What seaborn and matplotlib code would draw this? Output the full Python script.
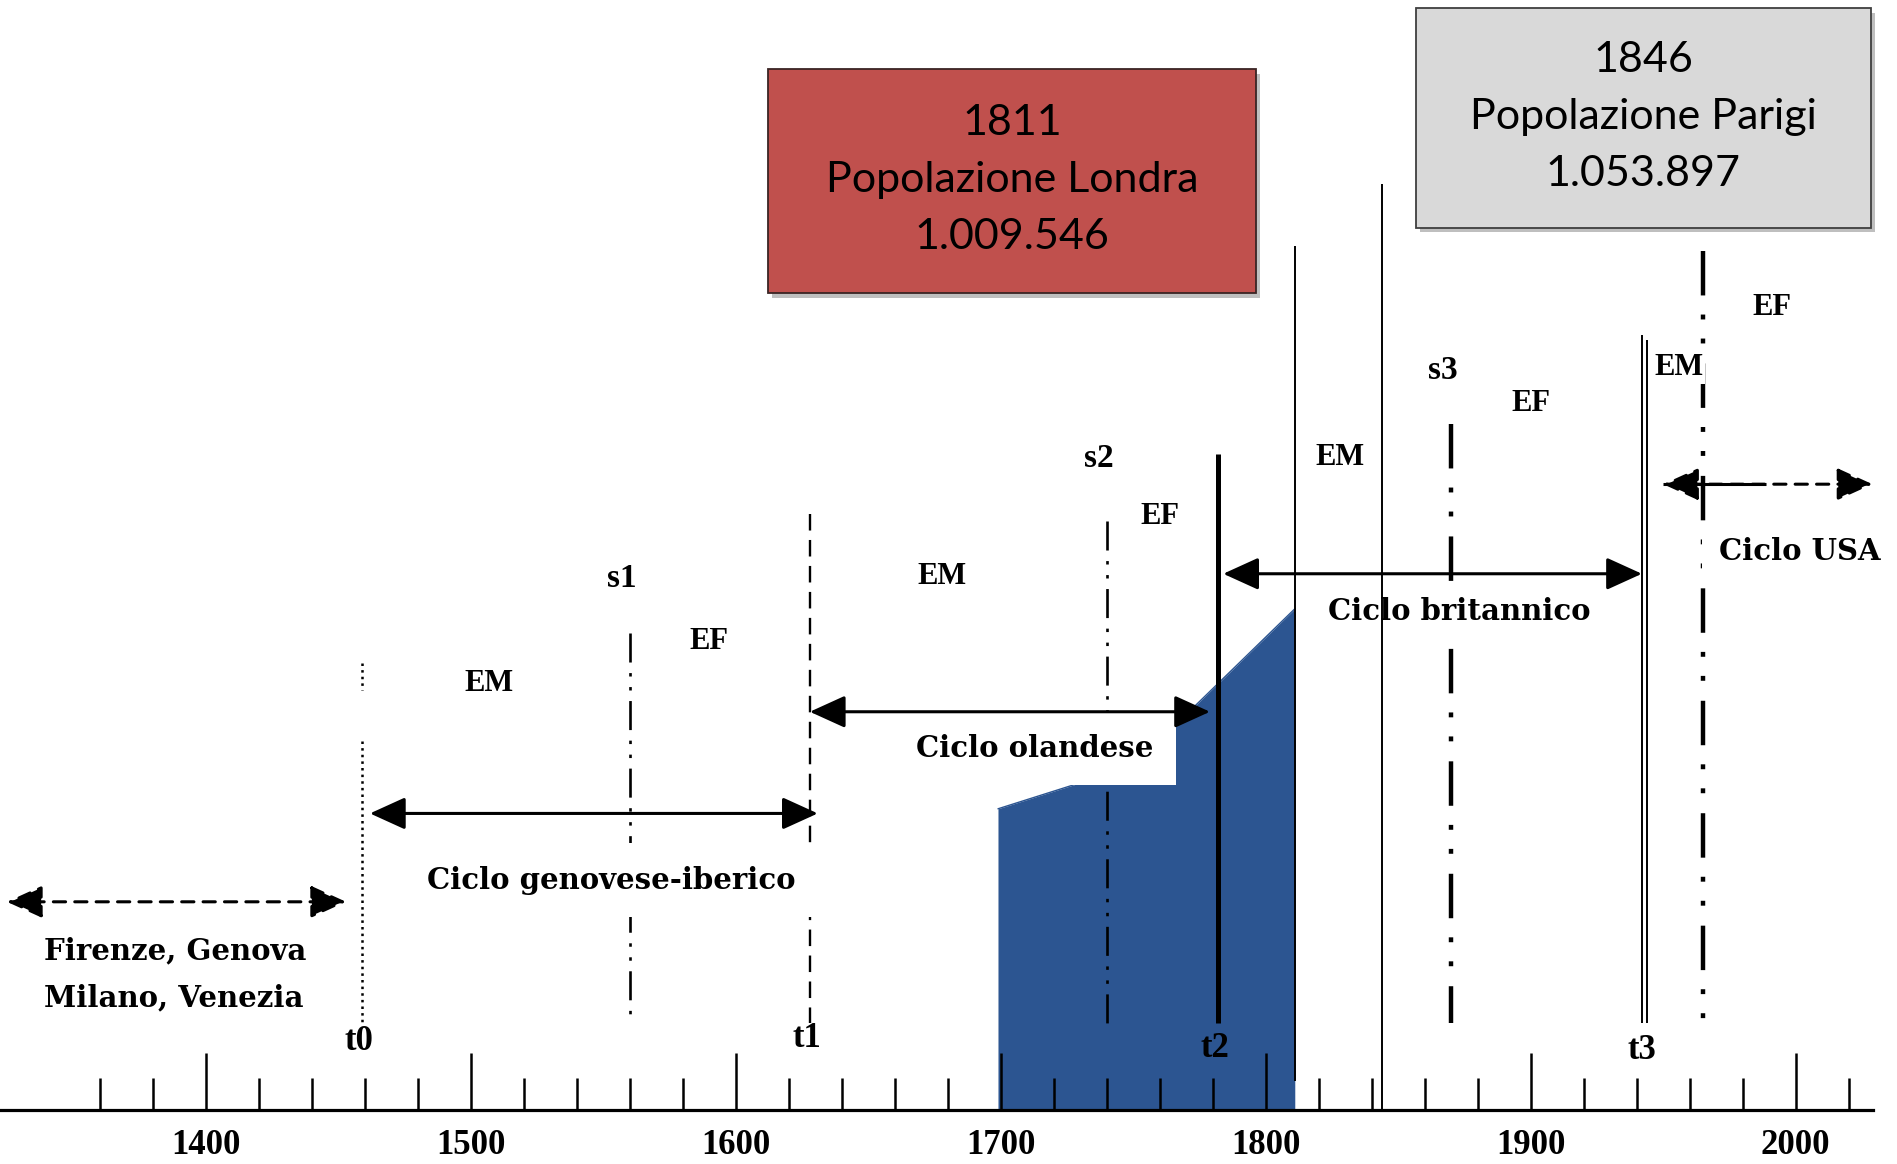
import matplotlib
matplotlib.use('Agg')
import matplotlib.pyplot as plt
from matplotlib.patches import Rectangle
from matplotlib.ticker import FixedLocator
import numpy as np
import pandas as pd
import seaborn as sns

# ── Data ──────────────────────────────────────────────────────────────────────
tick_years   = [1400, 1500, 1600, 1700, 1800, 1900, 2000]
minor_years  = [y for y in range(1360, 2021, 20) if y % 100]

turn_names   = ['t0', 't1', 't2', 't3']
turn_years   = [1459, 1628, 1782, 1943]

signal_names = ['s1', 's2', 's3', '']
signal_years = [1560, 1740, 1870, 1965]

cycle_names  = ['Firenze, Genova\nMilano, Venezia', 'Ciclo genovese-iberico',
                'Ciclo olandese', 'Ciclo britannico', 'Ciclo USA']
cycle_start  = [1325, 1462, 1628, 1784, 1950]
cycle_end    = [1453, 1631, 1779, 1942, 2029]

phase_names  = ['EM', 'EF', 'EM', 'EF', 'EM', 'EF', 'EM', 'EF']

london_years = [1699, 1728, 1770, 1811]
london_pop   = [607, 656, 797, 1010]          # migliaia di abitanti

census_years  = [1811, 1846]
census_cities = ['Londra', 'Parigi']
census_pop    = ['1.009.546', '1.053.897']
census_lines  = [1811, 1844]

# ── Style ─────────────────────────────────────────────────────────────────────
sns.set_theme(style='white')
SERIF = ['Liberation Serif', 'DejaVu Serif']
WIDE  = ['DejaVu Serif']
plt.rcParams['font.family'] = SERIF
plt.rcParams['text.color'] = 'black'
BLUE = '#2C5591'

fig = plt.figure(figsize=(18.97, 11.64), dpi=100)
ax = fig.add_axes([0, 54 / 1164, 1873 / 1897, 1 - 54 / 1164])
ax2 = ax.twinx()
ax.set_zorder(ax2.get_zorder() + 1)
ax.patch.set_visible(False)

ax.set_xlim(1322.4, 2029.2)
ax.set_ylim(917, 0)          # layout units: 0 = top, 917 = time axis

# ── London population (blue area) ─────────────────────────────────────────────
pop_df = pd.DataFrame({'anno': london_years, 'pop': london_pop})
ax2.fill_between(pop_df['anno'], 0, pop_df['pop'], color=BLUE, lw=0)
sns.lineplot(data=pop_df, x='anno', y='pop', ax=ax2, color=BLUE, lw=1)
ax2.set_ylim(0, 2237)
ax2.axis('off')

# ── Time axis ─────────────────────────────────────────────────────────────────
for s in ['top', 'left', 'right']:
    ax.spines[s].set_visible(False)
ax.spines['bottom'].set_color('black')
ax.spines['bottom'].set_linewidth(2.3)
ax.set_yticks([])
ax.set_xticks(tick_years)
ax.set_xticklabels([str(y) for y in tick_years], fontweight='bold', fontsize=25,
                   color='black')
ax.xaxis.set_minor_locator(FixedLocator(minor_years))
ax.tick_params(axis='x', which='both', bottom=True, top=False, colors='black')
ax.tick_params(axis='x', which='major', direction='in', length=41, width=1.8,
               pad=14)
ax.tick_params(axis='x', which='minor', direction='in', length=23, width=1.8)

# ── Vertical lines ────────────────────────────────────────────────────────────
thin_dd  = (0, (11, 4, 1.3, 4, 1.3, 4))
thick_dd = (0, (10, 4.3, 1.1, 4.3, 1.1, 4.5))

# t0 dotted (two pieces), t1 dashed, t2 solid, t3 double
ax.vlines([turn_years[0]] * 2, [548, 612], [570, 845], colors='black', lw=1.8,
          linestyles=':', zorder=2)
ax.vlines(turn_years[1], 425, 845, colors='black', lw=1.7,
          linestyles=(0, (7, 4)), zorder=2)
ax.vlines(turn_years[2], 375, 845, colors='black', lw=3.6, zorder=4)
ax.vlines([turn_years[3] - 1.1, turn_years[3] + 1.1], [277, 281], [845, 845],
          colors='black', lw=1.4, zorder=4)

sig_top = [523, 430, 350, 207]
for yr, top, st, lw in zip(signal_years, sig_top,
                           [thin_dd, thin_dd, thick_dd, thick_dd],
                           [1.9, 1.9, 3.2, 3.2]):
    ax.vlines(yr, top, 845, colors='black', lw=lw, linestyles=st, zorder=2)

# census markers (London 1811, Paris 1846)
ax.vlines(census_lines, [203, 152], [893, 917], colors='black', lw=1.4, zorder=4)

# ── Cycle arrows ──────────────────────────────────────────────────────────────
arrow_y  = [745, 672, 588, 474, 400]
arrow_ls = [(0, (4, 3)), '-', '-', '-', (0, (4, 3))]
for x0, x1, y, ls in zip(cycle_start, cycle_end, arrow_y, arrow_ls):
    ax.annotate('', xy=(x1, y), xytext=(x0, y), zorder=5, annotation_clip=False,
                arrowprops=dict(arrowstyle='<|-|>,head_length=1.1,head_width=0.5',
                                mutation_scale=20, lw=2.2, color='black',
                                linestyle=ls, shrinkA=0, shrinkB=0))
# solid start of the USA arrow
ax.hlines(arrow_y[-1], cycle_start[-1], 1989, colors='black', lw=2.2, zorder=5)

# ── Labels ────────────────────────────────────────────────────────────────────
LBL = dict(fontweight='bold', fontsize=22, ha='center', va='center', zorder=3,
           color='black')

phase_pos = [(1507, 565), (1590, 530), (1678, 476), (1760, 427),
             (1828, 378), (1900, 333), (1956, 304), (1991, 254)]
for name, (x, y) in zip(phase_names, phase_pos):
    ax.text(x, y, name, bbox=dict(fc='white', ec='none', pad=1), **LBL)

for name, yr, y in zip(signal_names, signal_years, [478, 379, 306, 0]):
    if name:
        ax.text(yr - 3, y, name, **{**LBL, 'fontsize': 24})

for name, yr, y in zip(turn_names, turn_years, [860, 858, 866, 868]):
    ax.text(yr - 1, y, name, **{**LBL, 'fontsize': 25})

CYC = dict(fontweight='bold', fontsize=21, family=WIDE, zorder=3, va='center',
           color='black')
ax.text(1339, 805, cycle_names[0], ha='left', linespacing=1.75, **CYC)
ax.text(1553, 727, cycle_names[1], ha='center',
        bbox=dict(fc='white', ec='none', pad=16), **CYC)
ax.text(1713, 618, cycle_names[2], ha='center',
        bbox=dict(fc='white', ec='none', pad=16), **CYC)
ax.text(1873, 505, cycle_names[3], ha='center',
        bbox=dict(fc='white', ec='none', pad=8), **CYC)
ax.text(1971, 456, cycle_names[4], ha='left',
        bbox=dict(fc='white', ec='none', pad=12), **CYC)

# ── Census boxes ──────────────────────────────────────────────────────────────
box_geo   = [(1612.3, 1796.3, 57, 242), (1856.6, 2028.3, 7, 188)]
box_fill  = ['#C0504D', '#D9D9D9']
box_edge  = ['#3a2424', '#3f3f3f']
for yr, city, pop, (x0, x1, y0, y1), fc, ec in zip(census_years, census_cities,
                                                   census_pop, box_geo,
                                                   box_fill, box_edge):
    ax.add_patch(Rectangle((x0 + 1.5, y0 + 4), x1 - x0, y1 - y0,
                           fc='#8c8c8c', ec='none', alpha=0.55, zorder=3,
                           clip_on=False))
    ax.add_patch(Rectangle((x0, y0), x1 - x0, y1 - y0, fc=fc, ec=ec,
                           lw=1.3, zorder=3.1, clip_on=False))
    ax.text((x0 + x1) / 2, (y0 + y1) / 2 - 1, f'{yr}\nPopolazione {city}\n{pop}',
            ha='center', va='center', fontsize=31, family=['Lato', 'DejaVu Sans'],
            linespacing=1.62, color='black', zorder=3.2)

fig.savefig('out.png', dpi=100)
